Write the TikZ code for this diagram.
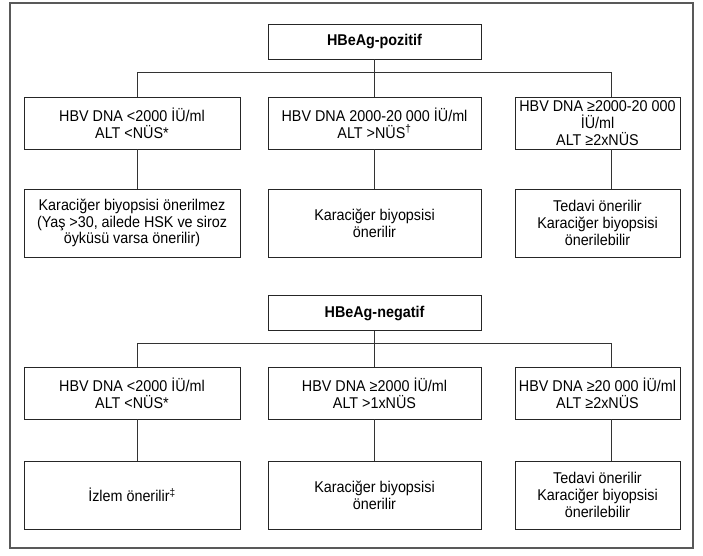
\documentclass[tikz,border=0pt]{standalone}
\usepackage{fontspec}
\setmainfont{Liberation Sans}[FakeStretch=0.92]
\begin{document}
\begin{tikzpicture}[x=1pt,y=-1pt,
  box/.style={draw=black!85, line width=0.9pt, inner sep=0pt, align=center,
    font=\fontsize{15.6}{16.8}\selectfont},
  colL/.style={minimum width=216pt},
  colM/.style={minimum width=213pt},
  colR/.style={minimum width=165pt},
  rowT/.style={minimum height=35pt},
  rowA/.style={minimum height=52pt},
  rowB/.style={minimum height=68pt},
  conn/.style={draw=black!80, line width=0.9pt},
  frame/.style={draw=black!65, line width=1.6pt}]
\useasboundingbox (0,0) rectangle (703,555);
\draw[frame] (10,3) rectangle (693,548);

% ---- HBeAg-pozitif section
\node[box,colM,rowT] (top) at (374.5,41.5) {\textbf{HBeAg-pozitif}};
\node[box,colL,rowA] (l1) at (132,123) {HBV DNA <2000 İÜ/ml\\ALT <NÜS*};
\node[box,colM,rowA] (m1) at (374.5,123) {HBV DNA 2000-20 000 İÜ/ml\\ALT >NÜS\textsuperscript{†}};
\node[box,colR,rowA] (r1) at (597.5,123) {HBV DNA ≥2000-20 000\\İÜ/ml\\ALT ≥2xNÜS};
\node[box,colL,rowB] (l2) at (132,223) {Karaciğer biyopsisi önerilmez\\(Yaş >30, ailede HSK ve siroz\\öyküsü varsa önerilir)};
\node[box,colM,rowB] (m2) at (374.5,223) {Karaciğer biyopsisi\\önerilir};
\node[box,colR,rowB] (r2) at (597.5,223) {Tedavi önerilir\\Karaciğer biyopsisi\\önerilebilir};

\coordinate (h1l) at (137,72);
\coordinate (h1r) at (611,72);
\draw[conn] (h1l) -- (h1r);
\draw[conn] (top.south) -- (m1.north);
\draw[conn] (h1l) -- (h1l |- l1.north);
\draw[conn] (h1r) -- (h1r |- r1.north);
\draw[conn] (l1.south -| h1l) -- (l2.north -| h1l);
\draw[conn] (m1.south) -- (m2.north);
\draw[conn] (r1.south -| h1r) -- (r2.north -| h1r);

% ---- HBeAg-negatif section
\node[box,colM,rowT] (neg) at (374.5,313) {\textbf{HBeAg-negatif}};
\node[box,colL,rowA] (l3) at (132,393) {HBV DNA <2000 İÜ/ml\\ALT <NÜS*};
\node[box,colM,rowA] (m3) at (374.5,393) {HBV DNA ≥2000 İÜ/ml\\ALT >1xNÜS};
\node[box,colR,rowA] (r3) at (597.5,393) {HBV DNA ≥20 000 İÜ/ml\\ALT ≥2xNÜS};
\node[box,colL,rowB] (l4) at (132,495) {İzlem önerilir\textsuperscript{‡}};
\node[box,colM,rowB] (m4) at (374.5,495) {Karaciğer biyopsisi\\önerilir};
\node[box,colR,rowB] (r4) at (597.5,495) {Tedavi önerilir\\Karaciğer biyopsisi\\önerilebilir};

\coordinate (h2l) at (137,343);
\coordinate (h2r) at (611,343);
\draw[conn] (h2l) -- (h2r);
\draw[conn] (neg.south) -- (m3.north);
\draw[conn] (h2l) -- (h2l |- l3.north);
\draw[conn] (h2r) -- (h2r |- r3.north);
\draw[conn] (l3.south -| h2l) -- (l4.north -| h2l);
\draw[conn] (m3.south) -- (m4.north);
\draw[conn] (r3.south -| h2r) -- (r4.north -| h2r);
\end{tikzpicture}
\end{document}
